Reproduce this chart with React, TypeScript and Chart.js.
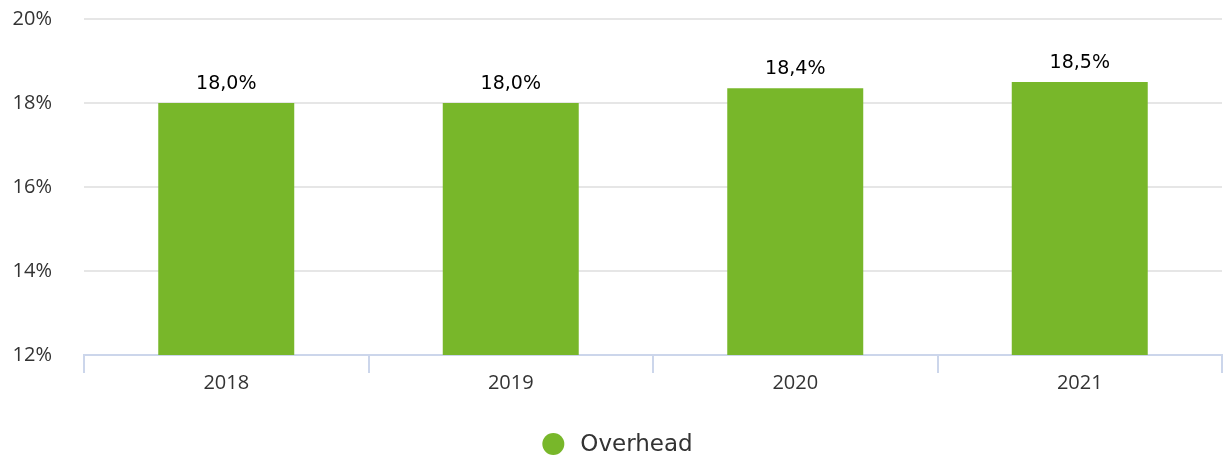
import React, { useEffect, useRef } from "react";
import { Chart, registerables } from "chart.js";

Chart.register(...registerables);

const categories: string[] = ["2018", "2019", "2020", "2021"];
const overhead: number[] = [18.0, 18.0, 18.35, 18.5];
const seriesName = "Overhead";
const yTicks: number[] = [12, 14, 16, 18, 20];

const BAR_COLOR = "#78b72a";

const fmt = (v: number) => (Math.round(v * 10) / 10).toFixed(1).replace(".", ",") + "%";

const dataLabelPlugin = {
  id: "dataLabels",
  afterDatasetsDraw(chart: any) {
    const ctx = chart.ctx;
    const meta = chart.getDatasetMeta(0);
    ctx.save();
    ctx.font = '19px "DejaVu Sans"';
    ctx.fillStyle = "#000000";
    ctx.textAlign = "center";
    ctx.textBaseline = "alphabetic";
    meta.data.forEach((bar: any, i: number) => {
      const v = chart.data.datasets[0].data[i] as number;
      ctx.fillText(fmt(v), bar.x, bar.y - 14);
    });
    ctx.restore();
  },
};

const legendPlugin = {
  id: "customLegend",
  afterDraw(chart: any) {
    const ctx = chart.ctx;
    ctx.save();
    ctx.font = '23px "DejaVu Sans"';
    const label = chart.data.datasets[0].label as string;
    const tw = ctx.measureText(label).width;
    const r = 11;
    const gap = 16;
    const total = r * 2 + gap + tw;
    const x0 = (chart.width - total) / 2 + 6;
    const cy = 444;
    ctx.fillStyle = BAR_COLOR;
    ctx.beginPath();
    ctx.arc(x0 + r, cy, r, 0, Math.PI * 2);
    ctx.fill();
    ctx.fillStyle = "#333333";
    ctx.textAlign = "left";
    ctx.textBaseline = "middle";
    ctx.fillText(label, x0 + r * 2 + gap, cy + 1);
    ctx.restore();
  },
};

export default function App() {
  const ref = useRef<HTMLCanvasElement | null>(null);
  useEffect(() => {
    if (!ref.current) return;
    const chart = new Chart(ref.current, {
      type: "bar",
      data: {
        labels: categories,
        datasets: [
          {
            label: seriesName,
            data: overhead,
            backgroundColor: BAR_COLOR,
            borderWidth: 0,
            categoryPercentage: 1,
            barPercentage: 0.478,
          },
        ],
      },
      options: {
        animation: false,
        responsive: true,
        maintainAspectRatio: false,
        layout: { padding: { top: 19, right: 1, bottom: 68, left: 0 } },
        plugins: {
          legend: { display: false },
          tooltip: { enabled: false },
        },
        scales: {
          x: {
            grid: {
              display: true,
              drawOnChartArea: false,
              drawTicks: true,
              tickLength: 18,
              offset: true,
              color: "#ccd6eb",
              lineWidth: 2,
            },
            border: { display: true, color: "#ccd6eb", width: 2 },
            ticks: {
              color: "#333333",
              font: { family: '"Open Sans"', size: 20 },
              padding: -2,
            },
          },
          y: {
            min: yTicks[0],
            max: yTicks[yTicks.length - 1],
            afterBuildTicks(scale: any) {
              scale.ticks = yTicks.map((v) => ({ value: v }));
            },
            afterFit(scale: any) {
              scale.width = 84;
            },
            grid: {
              color: "#e6e6e6",
              lineWidth: 2,
              drawTicks: true,
              tickLength: 32,
              tickColor: "rgba(0,0,0,0)",
            },
            border: { display: false },
            ticks: {
              color: "#333333",
              font: { family: '"Open Sans"', size: 20 },
              padding: 0,
              callback: (v: any) => v + "%",
            },
          },
        },
      },
      plugins: [dataLabelPlugin, legendPlugin],
    });
    return () => chart.destroy();
  }, []);
  return (
    <div style={{ position: "absolute", left: 0, top: 0, width: 1223, height: 461, background: "#fff" }}>
      <canvas ref={ref} />
    </div>
  );
}
